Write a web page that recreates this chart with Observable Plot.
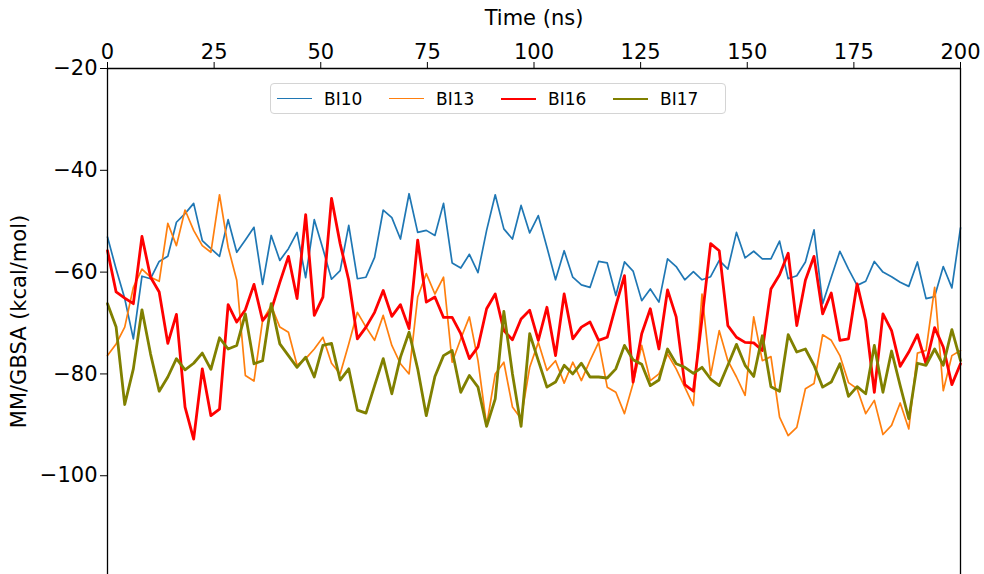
<!DOCTYPE html>
<html><head><meta charset="utf-8">
<script src="https://cdn.jsdelivr.net/npm/d3@7"></script>
<script src="https://cdn.jsdelivr.net/npm/@observablehq/plot@0.6"></script>
<style>
body{margin:0;background:#fff;}
#wrap{position:relative;width:984px;height:574px;font-family:"DejaVu Sans",sans-serif;overflow:hidden;}
#wrap svg{display:block;}
#legend{position:absolute;left:270px;top:83px;width:448px;height:29px;border:1px solid #d4d4d4;border-radius:4px;background:rgba(255,255,255,0.85);display:flex;align-items:center;padding-left:6px;box-sizing:content-box;}
.item{display:flex;align-items:center;width:118.5px;font-size:17px;color:#000;}
.sw{width:35px;margin-right:12px;}
</style></head>
<body><div id="wrap"><div id="legend"></div></div>
<script>
const seriesNames = ["BI10", "BI13", "BI16", "BI17"];
const seriesColors = ["#1f77b4", "#ff7f0e", "#ff0000", "#808000"];
const seriesWidths = [1.7, 1.7, 2.8, 2.8];
const xTicks = [0, 25, 50, 75, 100, 125, 150, 175, 200];
const yTicks = [-20, -40, -60, -80, -100];

const bi10 = [
 -53.1, -59.4, -65.2, -73.1, -60.8, -61.3, -57.9, -56.9, -50.2, -48.5,
 -46.5, -53.8, -55.4, -56.9, -49.7, -56.1, -53.7, -51.2, -62.4, -52.8,
 -57.7, -55.4, -52.2, -61.1, -49.7, -55.4, -61.4, -59.7, -50.8, -61.3,
 -61.0, -57.1, -47.8, -49.3, -53.5, -44.6, -52.2, -51.8, -52.8, -46.5,
 -58.2, -59.2, -56.5, -60.1, -51.8, -44.8, -51.5, -53.5, -46.9, -52.3,
 -48.9, -55.1, -61.5, -55.8, -61.0, -62.5, -63.0, -57.9, -58.2, -64.6,
 -58.0, -59.8, -65.6, -63.3, -65.9, -57.4, -58.9, -61.5, -59.9, -61.5,
 -60.9, -57.7, -59.4, -52.2, -57.2, -55.9, -57.4, -57.4, -53.9, -61.3,
 -60.7, -58.0, -51.7, -66.2, -61.0, -55.9, -59.4, -62.6, -61.8, -57.9,
 -60.0, -60.9, -62.0, -62.8, -58.0, -65.2, -64.8, -58.9, -63.1, -51.3
];
const bi13 = [
 -76.4, -74.1, -70.8, -63.0, -59.4, -61.0, -61.8, -50.4, -54.8, -47.8,
 -51.8, -54.8, -56.1, -44.8, -55.1, -61.6, -80.3, -81.4, -69.5, -66.6,
 -70.8, -71.8, -78.3, -77.0, -75.1, -72.8, -77.9, -80.0, -74.1, -67.9,
 -70.8, -73.4, -68.5, -74.4, -78.0, -80.0, -64.9, -60.3, -64.3, -61.0,
 -77.7, -73.1, -68.8, -77.4, -90.1, -80.0, -77.7, -86.5, -88.8, -78.7,
 -73.8, -79.3, -77.4, -81.8, -77.7, -81.3, -77.4, -73.8, -82.6, -83.6,
 -87.8, -81.9, -74.4, -81.3, -80.0, -76.1, -79.0, -82.6, -86.2, -64.3,
 -80.3, -71.5, -77.4, -80.6, -84.2, -68.8, -77.4, -76.6, -88.5, -92.1,
 -90.5, -82.9, -81.9, -72.3, -73.4, -76.4, -81.7, -82.9, -87.8, -85.2,
 -91.9, -90.1, -85.7, -90.8, -75.9, -75.4, -63.0, -83.3, -76.4, -75.4
];
const bi16 = [
 -55.8, -63.9, -65.1, -66.2, -53.0, -61.0, -63.9, -74.0, -68.3, -86.5,
 -92.8, -79.0, -88.2, -86.9, -66.4, -69.8, -67.4, -62.4, -69.5, -67.5,
 -62.0, -56.9, -65.2, -48.7, -68.5, -64.9, -45.5, -54.4, -61.6, -73.1,
 -70.8, -67.9, -63.6, -68.7, -66.4, -71.1, -53.7, -65.9, -64.9, -68.9,
 -68.9, -72.1, -77.0, -74.7, -67.2, -64.3, -71.5, -73.3, -69.2, -67.5,
 -73.4, -66.9, -76.4, -64.3, -73.1, -70.8, -69.8, -73.4, -72.8, -66.6,
 -60.7, -81.6, -72.1, -67.2, -75.1, -63.5, -68.8, -82.1, -83.4, -69.2,
 -54.4, -55.8, -70.5, -72.8, -73.8, -73.9, -75.4, -63.3, -60.5, -56.3,
 -70.5, -61.6, -56.9, -68.2, -64.1, -73.4, -73.1, -62.3, -69.5, -83.6,
 -68.2, -71.5, -78.5, -75.7, -72.3, -78.0, -70.9, -74.7, -82.1, -78.0
];
const bi17 = [
 -66.2, -70.8, -86.0, -79.0, -67.4, -76.1, -83.4, -80.6, -77.0, -79.2,
 -77.9, -75.9, -79.1, -72.9, -75.1, -74.4, -68.2, -78.0, -77.4, -66.2,
 -74.1, -76.4, -78.7, -76.7, -80.6, -74.4, -74.0, -81.2, -79.0, -87.1,
 -87.7, -82.3, -77.0, -83.9, -76.7, -71.8, -79.0, -88.2, -80.5, -76.4,
 -75.4, -83.6, -80.3, -82.6, -90.3, -84.9, -67.7, -80.0, -90.3, -72.1,
 -77.4, -82.6, -81.6, -78.3, -80.0, -77.9, -80.6, -80.6, -80.8, -79.0,
 -74.4, -77.2, -78.1, -82.3, -81.2, -75.1, -78.0, -78.7, -79.9, -78.7,
 -81.0, -82.3, -78.3, -74.2, -78.3, -80.5, -72.5, -82.5, -83.4, -72.3,
 -75.7, -75.1, -78.3, -82.6, -81.6, -78.0, -84.4, -82.5, -83.9, -74.4,
 -83.6, -75.5, -82.3, -88.8, -77.9, -78.3, -75.1, -78.3, -71.3, -77.4
];

const seriesValues = [bi10, bi13, bi16, bi17];
const n = bi10.length;
const time = d3.range(n).map(i => i * 200 / (n - 1));
const fmt = d => d < 0 ? "\u2212" + Math.abs(d) : String(d);

const lineMarks = seriesNames.map((name, k) => {
  const rows = seriesValues[k].map((v, i) => ({t: time[i], v, series: name}));
  return Plot.line(rows, {x: "t", y: "v", stroke: seriesColors[k], strokeWidth: seriesWidths[k], strokeLinejoin: "round"});
});

const chart = Plot.plot({
  width: 984, height: 574,
  marginLeft: 107, marginRight: 24, marginTop: 68, marginBottom: 0,
  x: {domain: [0, 200]},
  y: {domain: [-119.4, -20]},
  style: {fontFamily: "DejaVu Sans, sans-serif", fontSize: "21px", color: "#000", background: "#fff", overflow: "visible"},
  marks: [
    ...lineMarks,
    Plot.ruleX([0, 200], {stroke: "#000", strokeWidth: 1.3}),
    Plot.ruleY([-20], {stroke: "#000", strokeWidth: 1.3}),
    Plot.axisX({anchor: "top", ticks: xTicks, tickSize: 7, tickPadding: 3, tickFormat: fmt, fontSize: 21,
      label: "Time (ns)", labelAnchor: "center", labelArrow: "none", labelOffset: 58}),
    Plot.axisY({anchor: "left", ticks: yTicks, tickSize: 7, tickPadding: 3, tickFormat: fmt, fontSize: 21,
      label: "MM/GBSA (kcal/mol)", labelAnchor: "center", labelArrow: "none", labelOffset: 96})
  ]
});

const wrap = document.getElementById("wrap");
wrap.insertBefore(chart, wrap.firstChild);

const legend = document.getElementById("legend");
seriesNames.forEach((name, k) => {
  const item = document.createElement("div");
  item.className = "item";
  const sw = document.createElement("div");
  sw.className = "sw";
  sw.style.borderTop = seriesWidths[k] + "px solid " + seriesColors[k];
  const label = document.createElement("span");
  label.textContent = name;
  item.appendChild(sw);
  item.appendChild(label);
  legend.appendChild(item);
});
</script>
</body></html>
